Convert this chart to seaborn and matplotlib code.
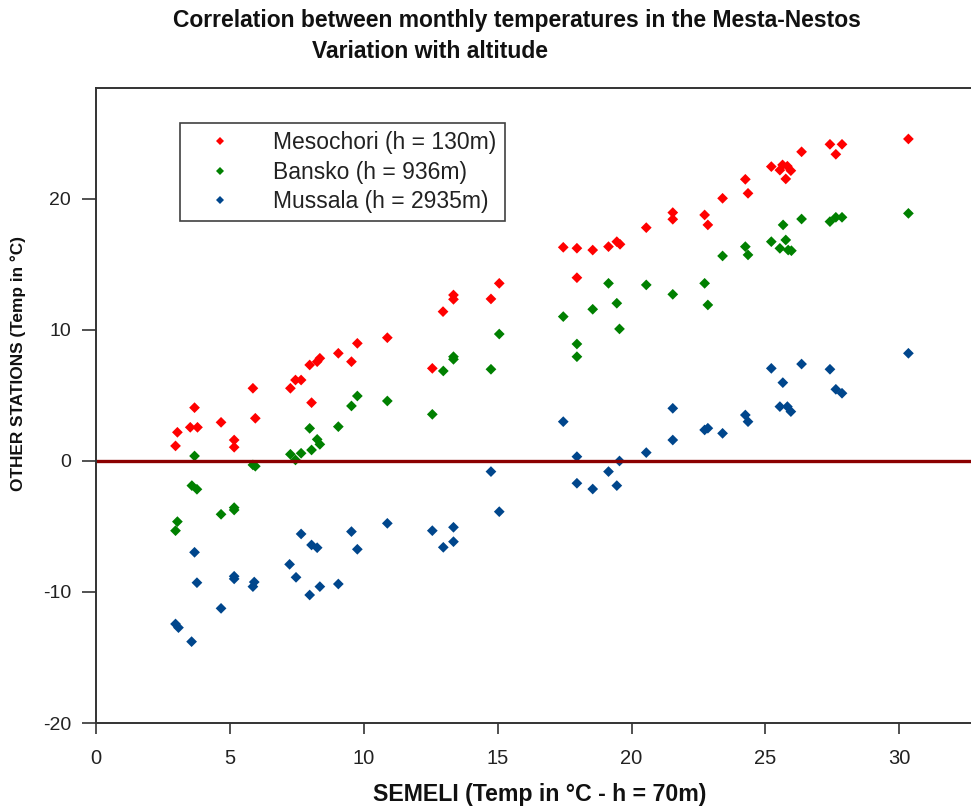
import matplotlib
matplotlib.use("Agg")
import matplotlib.pyplot as plt
import seaborn as sns
import pandas as pd
from matplotlib.lines import Line2D

# ---- data ----
meso_x = [2.97, 3.04, 3.52, 3.68, 3.79, 4.67, 5.16, 5.16, 5.86, 5.95, 7.26, 7.45, 7.66, 7.98, 8.05,
          8.26, 8.36, 9.05, 9.54, 9.76, 10.88, 12.56, 12.96, 13.35, 13.35, 14.75, 15.06, 17.45,
          17.96, 17.96, 18.55, 19.14, 19.45, 19.57, 20.55, 21.54, 21.54, 22.73, 22.85, 23.40,
          24.25, 24.35, 25.22, 25.54, 25.64, 25.82, 25.95, 25.76, 26.35, 27.41, 27.63, 27.86, 30.34]
meso_y = [1.15, 2.19, 2.57, 4.07, 2.57, 2.95, 1.60, 1.05, 5.55, 3.26, 5.55, 6.18, 6.18, 7.33, 4.45,
          7.58, 7.84, 8.22, 7.58, 8.98, 9.41, 7.07, 11.40, 12.67, 12.34, 12.37, 13.56, 16.31,
          16.24, 13.99, 16.10, 16.36, 16.74, 16.54, 17.81, 18.96, 18.45, 18.78, 18.02, 20.05,
          21.50, 20.43, 22.47, 22.20, 22.60, 22.50, 22.16, 21.53, 23.60, 24.17, 23.41, 24.17, 24.58]

bansko_x = [2.97, 3.04, 3.58, 3.68, 3.77, 4.67, 5.16, 5.16, 5.86, 5.95, 7.26, 7.45, 7.66, 7.98,
            8.05, 8.26, 8.36, 9.05, 9.54, 9.76, 10.88, 12.56, 12.97, 13.35, 13.35, 14.75, 15.06,
            17.45, 17.96, 17.96, 18.55, 19.14, 19.45, 19.55, 20.55, 21.54, 22.73, 22.85, 23.40,
            24.25, 24.35, 25.22, 25.54, 25.66, 25.76, 25.85, 25.97, 26.35, 27.41, 27.63, 27.86, 30.34]
bansko_y = [-5.32, -4.63, -1.88, 0.38, -2.16, -4.07, -3.56, -3.74, -0.30, -0.40, 0.51, 0.08, 0.59,
            2.49, 0.84, 1.65, 1.27, 2.62, 4.20, 4.96, 4.58, 3.56, 6.87, 7.96, 7.76, 7.00, 9.69,
            11.02, 8.93, 7.96, 11.58, 13.56, 12.04, 10.08, 13.44, 12.72, 13.56, 11.91, 15.65,
            16.36, 15.73, 16.74, 16.23, 18.02, 16.87, 16.10, 16.05, 18.47, 18.27, 18.60, 18.60, 18.90]

mussala_x = [2.97, 3.08, 3.57, 3.68, 3.77, 4.67, 5.16, 5.16, 5.91, 5.86, 7.23, 7.47, 7.66, 7.98,
             8.05, 8.26, 8.36, 9.05, 9.54, 9.76, 10.88, 12.56, 12.97, 13.35, 13.35, 14.75, 15.06,
             17.45, 17.96, 17.96, 18.55, 19.14, 19.45, 19.55, 20.55, 21.54, 21.54, 22.73, 22.85,
             23.40, 24.25, 24.35, 25.22, 25.65, 25.54, 25.82, 25.95, 26.35, 27.41, 27.63, 27.86, 30.34]
mussala_y = [-12.44, -12.72, -13.79, -6.97, -9.29, -11.25, -8.80, -9.00, -9.24, -9.59, -7.89, -8.88,
             -5.57, -10.23, -6.41, -6.62, -9.59, -9.39, -5.39, -6.74, -4.76, -5.32, -6.59, -5.06,
             -6.16, -0.81, -3.87, 3.00, 0.33, -1.70, -2.14, -0.81, -1.88, 0.00, 0.64, 4.02, 1.60,
             2.37, 2.50, 2.11, 3.51, 3.00, 7.07, 5.98, 4.15, 4.15, 3.77, 7.40, 7.00, 5.47, 5.17, 8.22]

series_names = ["Mesochori (h = 130m)", "Bansko (h = 936m)", "Mussala (h = 2935m)"]
series_colors = ["#FF0000", "#008000", "#00468C"]
x_ticks = [0, 5, 10, 15, 20, 25, 30]
y_ticks = [-20, -10, 0, 10, 20]

df = pd.concat([
    pd.DataFrame({"x": meso_x, "y": meso_y, "station": series_names[0]}),
    pd.DataFrame({"x": bansko_x, "y": bansko_y, "station": series_names[1]}),
    pd.DataFrame({"x": mussala_x, "y": mussala_y, "station": series_names[2]}),
])

sns.set_theme(style="white")
REG = "Liberation Sans"
plt.rcParams["font.family"] = [REG, "DejaVu Sans"]

fig = plt.figure(figsize=(9.71, 8.09), dpi=100)
ax = fig.add_axes([96 / 971, 1 - 723 / 809, 1 - 96 / 971 + 0.002, (723 - 88) / 809])

sns.scatterplot(data=df, x="x", y="y", hue="station", hue_order=series_names,
                palette=series_colors, marker="D", s=30, linewidth=0, ax=ax, legend=False)

ax.axhline(0, color="#8B0000", lw=2.4, zorder=1)

ax.set_xlim(0, 32.75)
ax.set_ylim(-20, 28.47)
ax.set_xticks(x_ticks)
ax.set_yticks(y_ticks)
ax.set_xticklabels([str(t) for t in x_ticks], fontsize=14.5, color="#222222")
ax.set_yticklabels([str(t) for t in y_ticks], fontsize=14, color="#222222")
ax.tick_params(axis="x", direction="out", length=8, width=1.2, color="#333333", pad=11, bottom=True)
ax.tick_params(axis="y", direction="out", length=10, width=1.2, color="#333333", pad=8, left=True)
for side in ["left", "bottom", "top"]:
    ax.spines[side].set_color("#333333")
    ax.spines[side].set_linewidth(1.4)
ax.spines["right"].set_visible(False)
ax.grid(False)

ax.set_xlabel("")
ax.set_ylabel("")
fig.text(540 / 971, 1 - 794 / 809, "SEMELI (Temp in °C - h = 70m)", ha="center", va="center",
         fontweight="bold", fontsize=16.7, color="#111111")
fig.text(18 / 971, 1 - 364 / 809, "OTHER STATIONS (Temp in °C)", ha="center", va="center",
         rotation=90, fontweight="bold", fontsize=12.4, color="#111111")

fig.text(517 / 971, 1 - 20 / 809, "Correlation between monthly temperatures in the Mesta-Nestos",
         ha="center", va="center", fontweight="bold", fontsize=16.5, color="#111111")
fig.text(430 / 971, 1 - 52 / 809, "Variation with altitude",
         ha="center", va="center", fontweight="bold", fontsize=16.5, color="#111111")

handles = [Line2D([], [], marker="D", linestyle="none", markersize=4.5, color=c,
                  markeredgewidth=0) for c in series_colors]
leg = fig.legend(handles, series_names, loc="upper left",
                 bbox_to_anchor=(180 / 971, 1 - 123 / 809), frameon=True, fancybox=False,
                 prop={"family": REG, "size": 16.5}, handletextpad=0.92, borderpad=0.35,
                 labelspacing=0.29, handlelength=2.8, borderaxespad=0)
leg.get_frame().set_edgecolor("#111111")
leg.get_frame().set_linewidth(1.2)
for t in leg.get_texts():
    t.set_color("#222222")

fig.savefig("out.png", dpi=100)
